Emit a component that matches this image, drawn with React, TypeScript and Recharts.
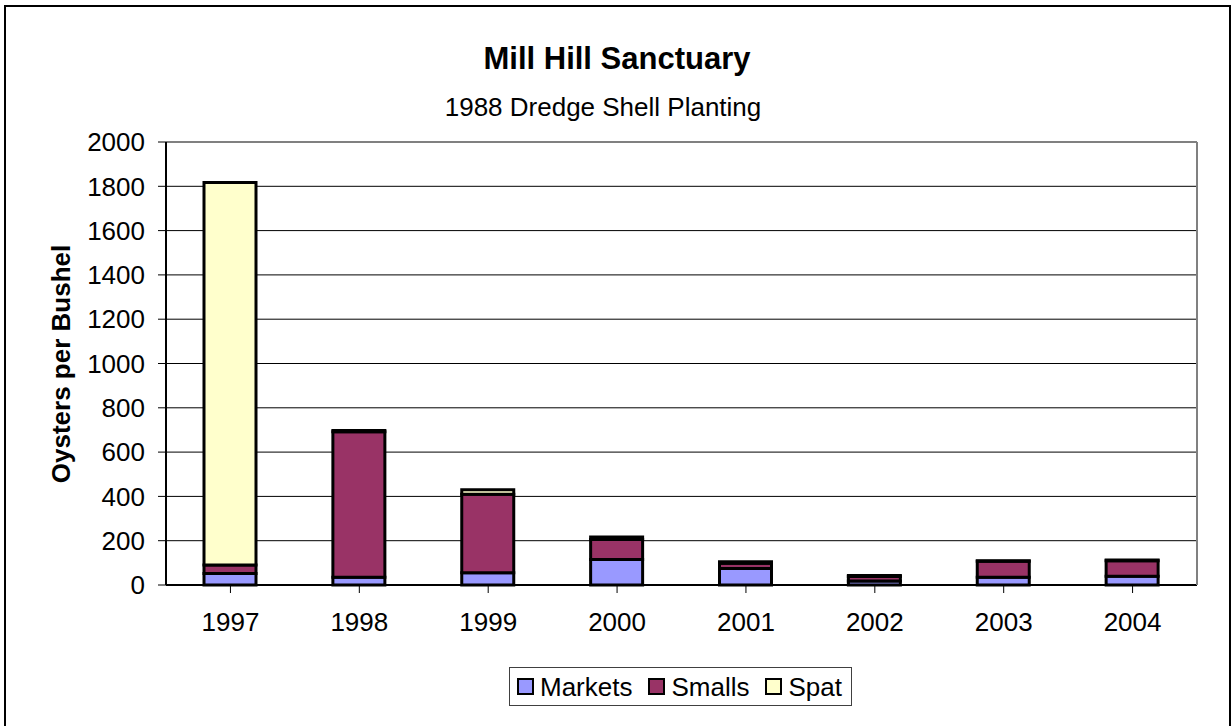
import { BarChart, Bar, XAxis, YAxis, CartesianGrid } from 'recharts';

const YEARS = ['1997', '1998', '1999', '2000', '2001', '2002', '2003', '2004'];
const MARKETS = [52, 35, 55, 115, 75, 18, 35, 40];
const SMALLS = [38, 657, 355, 90, 23, 20, 72, 70];
const SPAT = [1727, 5, 20, 12, 7, 5, 3, 3];
const Y_TICKS = [0, 200, 400, 600, 800, 1000, 1200, 1400, 1600, 1800, 2000];

const SERIES = [
  { key: 'markets', name: 'Markets', color: '#9999FF', values: MARKETS },
  { key: 'smalls', name: 'Smalls', color: '#993366', values: SMALLS },
  { key: 'spat', name: 'Spat', color: '#FFFFCC', values: SPAT },
];

const W = 1231;
const H = 726;
const FONT = '"Liberation Sans", Arial, sans-serif';

const data = YEARS.map((year, i) => ({
  year,
  markets: MARKETS[i],
  smalls: SMALLS[i],
  spat: SPAT[i],
}));

function LegendBox() {
  return (
    <div
      style={{
        position: 'absolute',
        left: 509,
        top: 667,
        width: 343,
        height: 39,
        border: '1px solid #404040',
        background: '#fff',
        display: 'flex',
        alignItems: 'center',
        paddingLeft: 7,
        boxSizing: 'border-box',
        fontFamily: FONT,
        fontSize: 26,
        color: '#000',
      }}
    >
      {SERIES.map((s) => (
        <div key={s.key} style={{ display: 'flex', alignItems: 'center', marginRight: 16 }}>
          <span
            style={{
              width: 13,
              height: 13,
              background: s.color,
              border: '2px solid #000',
              marginRight: 6,
              display: 'inline-block',
            }}
          />
          <span style={{ lineHeight: '26px' }}>{s.name}</span>
        </div>
      ))}
    </div>
  );
}

export default function App() {
  return (
    <div style={{ position: 'fixed', left: 0, top: 0, width: W, height: H, background: '#fff', overflow: 'hidden' }}>
      <BarChart width={W} height={H} data={data} margin={{ top: 0, right: 0, bottom: 0, left: 0 }} barSize={52}>
        <CartesianGrid vertical={false} stroke="#000" strokeWidth={1} />
        <XAxis
          dataKey="year"
          height={141}
          tickSize={8}
          tickMargin={20}
          axisLine={{ stroke: '#000', strokeWidth: 2 }}
          tickLine={{ stroke: '#000', strokeWidth: 1 }}
          tick={{ fill: '#000', fontSize: 26, fontFamily: FONT }}
          interval={0}
        />
        <XAxis
          xAxisId="top"
          orientation="top"
          dataKey="year"
          height={142}
          tick={false}
          tickLine={false}
          axisLine={{ stroke: '#808080', strokeWidth: 2 }}
        />
        <YAxis
          width={166}
          domain={[0, 2000]}
          ticks={Y_TICKS}
          interval={0}
          tickSize={8}
          tickMargin={13}
          axisLine={{ stroke: '#000', strokeWidth: 2 }}
          tickLine={{ stroke: '#000', strokeWidth: 1 }}
          tick={{ fill: '#000', fontSize: 26, fontFamily: FONT }}
        />
        <YAxis
          yAxisId="right"
          orientation="right"
          width={34}
          domain={[0, 2000]}
          tick={false}
          tickLine={false}
          axisLine={{ stroke: '#808080', strokeWidth: 2 }}
        />
        {SERIES.map((s) => (
          <Bar
            key={s.key}
            dataKey={s.key}
            name={s.name}
            stackId="a"
            fill={s.color}
            stroke="#000"
            strokeWidth={3}
            isAnimationActive={false}
          />
        ))}
      </BarChart>

      <svg width={W} height={H} style={{ position: 'absolute', left: 0, top: 0, pointerEvents: 'none' }}>
        <rect x={5} y={6} width={1225} height={760} fill="none" stroke="#000" strokeWidth={2} />
        <text x={617} y={69} textAnchor="middle" fontFamily={FONT} fontSize={31} fontWeight="bold" fill="#000">
          Mill Hill Sanctuary
        </text>
        <text x={603} y={116} textAnchor="middle" fontFamily={FONT} fontSize={26} fill="#000">
          1988 Dredge Shell Planting
        </text>
        <text
          transform="translate(70, 364) rotate(-90)"
          textAnchor="middle"
          fontFamily={FONT}
          fontSize={26}
          fontWeight="bold"
          fill="#000"
        >
          Oysters per Bushel
        </text>
      </svg>

      <LegendBox />
    </div>
  );
}
